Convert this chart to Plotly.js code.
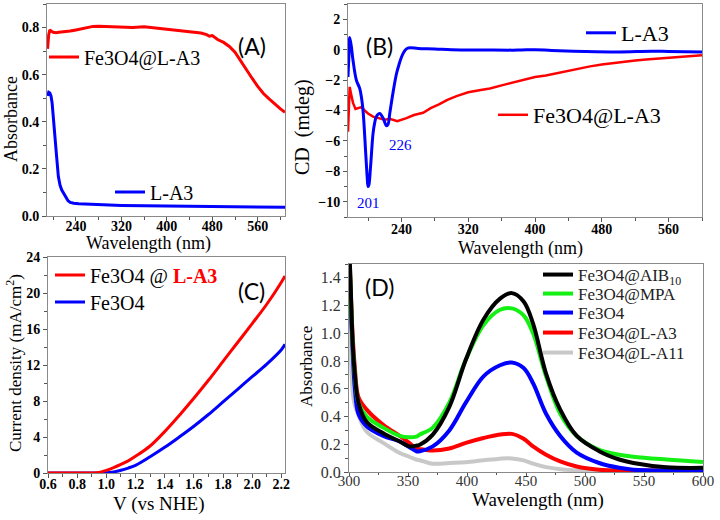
<!DOCTYPE html>
<html><head><meta charset="utf-8">
<script src="https://cdn.plot.ly/plotly-3.0.1.min.js"></script>
<style>html,body{margin:0;padding:0;background:#fff}#chart{width:720px;height:520px}</style>
</head><body><div id="chart"></div>
<script>
// ---------- Panel A: UV-Vis absorbance ----------
const A_wl_red = [190,192,194,196,200,205,210,220,230,240,250,260,270,280,290,300,320,340,360,380,400,420,440,460,470,475,480,490,500,510,520,530,540,550,560,570,580,590,600,608];
const A_red    = [0.71,0.77,0.79,0.785,0.78,0.778,0.78,0.782,0.785,0.79,0.795,0.80,0.805,0.806,0.805,0.803,0.80,0.80,0.803,0.798,0.795,0.79,0.785,0.777,0.77,0.763,0.766,0.748,0.737,0.72,0.695,0.657,0.62,0.585,0.55,0.52,0.497,0.475,0.455,0.44];
const A_wl_blue = [190,192,194,196,198,200,203,206,209,212,215,218,222,226,230,236,245,260,280,320,360,400,440,480,520,560,608];
const A_blue    = [0.51,0.525,0.522,0.51,0.48,0.43,0.35,0.25,0.167,0.13,0.11,0.097,0.08,0.065,0.058,0.054,0.052,0.05,0.048,0.045,0.043,0.042,0.041,0.04,0.039,0.038,0.037];

// ---------- Panel B: CD spectra ----------
const B_wl_blue = [176,177,178,180,182,186,190,192,194,197,199,200,201,203,206,208,210,214,218,222,224,226,230,234,237,240,243,246,250,260,280,300,340,380,400,420,460,500,540,560,600];
const B_blue    = [-1.8,-0.5,0.8,0.2,-0.7,-2.0,-2.55,-3.1,-4.0,-6.6,-8.4,-9.0,-8.9,-7.7,-5.5,-4.8,-4.4,-4.2,-4.5,-5.0,-4.9,-4.2,-2.8,-1.6,-1.0,-0.5,-0.15,0.05,0.12,0.08,0.05,0.0,-0.02,-0.03,0.0,-0.05,-0.12,-0.15,-0.1,-0.12,-0.15];
const B_wl_red = [176,177,178,180,182,185,188,192,196,200,206,212,220,226,235,246,255,266,275,285,295,306,320,335,346,360,375,386,400,413,426,440,453,466,480,493,506,520,533,546,560,573,586,600];
const B_red    = [-5.4,-3.5,-2.45,-3.0,-3.5,-3.9,-3.85,-3.78,-4.0,-4.2,-4.4,-4.5,-4.6,-4.55,-4.7,-4.5,-4.3,-4.15,-3.85,-3.6,-3.3,-3.05,-2.8,-2.65,-2.55,-2.35,-2.15,-2.0,-1.8,-1.7,-1.55,-1.4,-1.25,-1.1,-0.98,-0.88,-0.8,-0.72,-0.65,-0.6,-0.52,-0.47,-0.42,-0.37];
const B_peaks = ["201","226"];

// ---------- Panel C: current density ----------
const C_V    = [0.6,0.7,0.8,0.9,0.95,1.0,1.05,1.1,1.15,1.2,1.3,1.4,1.5,1.6,1.7,1.8,1.9,2.0,2.1,2.2,2.225];
const C_red  = [0,0,0,0,0.05,0.3,0.6,0.95,1.35,1.85,3.0,4.6,6.4,8.3,10.3,12.4,14.5,16.6,18.75,21.2,21.9];
const C_blue = [0,0,0,0,0,0.02,0.12,0.3,0.55,0.85,1.8,2.85,4.0,5.2,6.5,7.9,9.3,10.7,12.1,13.7,14.3];

// ---------- Panel D: absorbance of nanoparticles ----------
const D_wl    = [300,301,303,305,308,315,329,343,351,357,360,371,385,399,414,428,438,448,456,467,479,493,512,529,541,569,600];
const D_AIB   = [1.6,1.45,0.95,0.7,0.5,0.36,0.28,0.22,0.185,0.19,0.197,0.27,0.47,0.81,1.10,1.25,1.29,1.23,1.07,0.71,0.45,0.26,0.15,0.09,0.065,0.034,0.03];
const D_MPA   = [1.6,1.4,0.95,0.7,0.5,0.40,0.32,0.26,0.25,0.255,0.27,0.32,0.50,0.81,1.06,1.17,1.18,1.13,1.0,0.69,0.42,0.26,0.16,0.125,0.11,0.09,0.072];
const D_Fe3O4 = [1.5,1.3,0.9,0.6,0.42,0.33,0.26,0.22,0.18,0.15,0.15,0.185,0.30,0.50,0.69,0.77,0.79,0.75,0.64,0.42,0.26,0.14,0.065,0.03,0.017,0.01,0.01];
const D_LA3   = [1.6,1.4,1.0,0.75,0.54,0.45,0.34,0.26,0.21,0.17,0.165,0.155,0.17,0.21,0.245,0.27,0.275,0.24,0.185,0.125,0.077,0.04,0.017,0.01,0.01,0.01,0.01];
const D_LA11  = [1.27,1.0,0.59,0.48,0.41,0.29,0.21,0.137,0.11,0.09,0.085,0.06,0.065,0.07,0.084,0.096,0.098,0.084,0.06,0.035,0.02,0.012,0.01,0.01,0.01,0.01,0.01];

const PX = x => x / 720, PY = y => 1 - y / 520;
const SERIF = "Liberation Serif";
const RED = "#ff0000", BLUE = "#0000ff", GREEN = "#14f014", GRAY = "#c8c8c8";

const traces = [
  {x: A_wl_red, y: A_red, xaxis: "x", yaxis: "y", mode: "lines", name: "Fe3O4@L-A3", line: {color: RED, width: 3}, legend: "legend"},
  {x: A_wl_blue, y: A_blue, xaxis: "x", yaxis: "y", mode: "lines", name: "L-A3", line: {color: BLUE, width: 3}, legend: "legend2"},
  {x: B_wl_red, y: B_red, xaxis: "x2", yaxis: "y2", mode: "lines", name: "Fe3O4@L-A3", line: {color: RED, width: 2.5}, legend: "legend4"},
  {x: B_wl_blue, y: B_blue, xaxis: "x2", yaxis: "y2", mode: "lines", name: "L-A3", line: {color: BLUE, width: 3, shape: "spline"}, legend: "legend3"},
  {x: C_V, y: C_blue, xaxis: "x3", yaxis: "y3", mode: "lines", name: "Fe3O4", line: {color: BLUE, width: 3, shape: "spline"}, legend: "legend6"},
  {x: C_V, y: C_red, xaxis: "x3", yaxis: "y3", mode: "lines", name: "Fe3O4 @ <b><span style='color:#ff0000'>L-A3</span></b>", line: {color: RED, width: 3, shape: "spline"}, legend: "legend5"},
  {x: D_wl, y: D_LA11, xaxis: "x4", yaxis: "y4", mode: "lines", name: "Fe3O4@L-A11", line: {color: GRAY, width: 4, shape: "spline"}, legend: "legend11"},
  {x: D_wl, y: D_LA3, xaxis: "x4", yaxis: "y4", mode: "lines", name: "Fe3O4@L-A3", line: {color: RED, width: 4, shape: "spline"}, legend: "legend10"},
  {x: D_wl, y: D_Fe3O4, xaxis: "x4", yaxis: "y4", mode: "lines", name: "Fe3O4", line: {color: BLUE, width: 4, shape: "spline"}, legend: "legend9"},
  {x: D_wl, y: D_MPA, xaxis: "x4", yaxis: "y4", mode: "lines", name: "Fe3O4@MPA", line: {color: GREEN, width: 4, shape: "spline"}, legend: "legend8"},
  {x: D_wl, y: D_AIB, xaxis: "x4", yaxis: "y4", mode: "lines", name: "Fe3O4@AIB<sub>10</sub>", line: {color: "#000", width: 4, shape: "spline"}, legend: "legend7"}
];

function leg(xpx, ypx, size, color) {
  return {x: PX(xpx), y: PY(ypx), xanchor: "left", yanchor: "middle", bgcolor: "rgba(0,0,0,0)",
          borderwidth: 0, font: {family: SERIF, size: size, color: color || "#000"}, itemwidth: 30};
}

const boldTick = {family: SERIF, size: 14, color: "#000", weight: 700};
function axis(o) {
  return Object.assign({showgrid: false, zeroline: false, showline: true, mirror: true, linecolor: "#8a8a8a",
    linewidth: 1, ticks: "outside", ticklen: 4, tickcolor: "#555", tickfont: boldTick, fixedrange: true}, o);
}
// axis titles placed as paper annotations (reference titles are off-centre)
function atitle(t, xpx, ypx, size, vertical) {
  return {text: t, x: PX(xpx), y: PY(ypx), xref: "paper", yref: "paper", showarrow: false,
          xanchor: "center", yanchor: "middle", textangle: vertical ? -90 : 0,
          font: {family: SERIF, size: size, color: "#000"}};
}
function plabel(t, xpx, ypx) {
  return {text: t, x: PX(xpx), y: PY(ypx), xref: "paper", yref: "paper", showarrow: false,
          font: {family: "Lato", size: 23, color: "#000"}};
}

const layout = {
  width: 720, height: 520, margin: {l: 0, r: 0, t: 0, b: 0}, paper_bgcolor: "#fff", plot_bgcolor: "#fff",
  font: {family: SERIF, size: 15, color: "#000"},
  showlegend: true,
  xaxis: axis({domain: [PX(47), PX(285)], range: [189, 608], anchor: "y", tick0: 240, dtick: 80, ticklabelstandoff: -7,
    minor: {dtick: 40, ticks: "outside", ticklen: 3, tickcolor: "#555"}}),
  yaxis: axis({domain: [PY(216), PY(4)], range: [0, 0.9], anchor: "x", dtick: 0.2, tickformat: ".1f",
    minor: {dtick: 0.1, ticks: "outside", ticklen: 3, tickcolor: "#555"}}),
  xaxis2: axis({domain: [PX(348), PX(702)], range: [176, 600], anchor: "y2", tick0: 240, dtick: 80, ticklabelstandoff: -5,
    minor: {dtick: 40, ticks: "outside", ticklen: 3, tickcolor: "#555"}}),
  yaxis2: axis({domain: [PY(217), PY(4)], range: [-11, 3], anchor: "x2", dtick: 2,
    minor: {dtick: 1, ticks: "outside", ticklen: 3, tickcolor: "#555"}}),
  xaxis3: axis({domain: [PX(48), PX(285)], range: [0.6, 2.225], anchor: "y3", dtick: 0.2, tickformat: ".1f", ticklabelstandoff: -6,
    minor: {dtick: 0.1, ticks: "outside", ticklen: 3, tickcolor: "#555"}}),
  yaxis3: axis({domain: [PY(473), PY(257)], range: [0, 24], anchor: "x3", dtick: 4,
    minor: {dtick: 2, ticks: "outside", ticklen: 3, tickcolor: "#555"}}),
  xaxis4: axis({domain: [PX(349), PX(703)], range: [300, 600], anchor: "y4", dtick: 50, ticklen: 3, ticklabelstandoff: -8,
    tickfont: {family: SERIF, size: 15, color: "#333"},
    minor: {dtick: 25, ticks: "outside", ticklen: 2, tickcolor: "#555"}}),
  yaxis4: axis({domain: [PY(472), PY(264)], range: [0, 1.5], anchor: "x4", dtick: 0.2, tickformat: ".1f",
    tickfont: {family: SERIF, size: 16, color: "#333"},
    minor: {dtick: 0.1, ticks: "outside", ticklen: 3, tickcolor: "#555"}}),
  legend:  leg(44, 57, 20),
  legend2: leg(110, 192, 20),
  legend3: leg(581, 33, 22),
  legend4: leg(493, 115, 22),
  legend5: leg(50, 275, 20),
  legend6: leg(50, 302, 20),
  legend7: leg(538, 275, 17, "#222"),
  legend8: leg(538, 294, 17, "#222"),
  legend9: leg(538, 313, 17, "#222"),
  legend10: leg(538, 333, 17, "#222"),
  legend11: leg(538, 353, 17, "#222"),
  annotations: [
    atitle("Wavelength (nm)", 148, 243, 18),
    atitle("Absorbance", 11, 119, 18, true),
    atitle("Wavelength (nm)", 520, 248, 18),
    atitle("CD  (mdeg)", 302, 127, 20, true),
    atitle("V (vs NHE)", 158, 504, 19),
    atitle("Current density (mA/cm<sup>2</sup>)", 14, 363, 17, true),
    atitle("Wavelength (nm)", 538, 500, 19),
    atitle("Absorbance", 306, 367, 17, true),
    plabel("(A)", 252, 30),
    plabel("(B)", 379, 30),
    plabel("(C)", 252, 291),
    plabel("(D)", 379, 287),
    {text: B_peaks[0], x: 201, y: -10.1, xref: "x2", yref: "y2", showarrow: false, font: {family: SERIF, size: 15, color: BLUE}},
    {text: B_peaks[1], x: 239, y: -6.3, xref: "x2", yref: "y2", showarrow: false, font: {family: SERIF, size: 15, color: BLUE}}
  ]
};

Plotly.newPlot("chart", traces, layout, {staticPlot: true, displayModeBar: false});
</script></body></html>
